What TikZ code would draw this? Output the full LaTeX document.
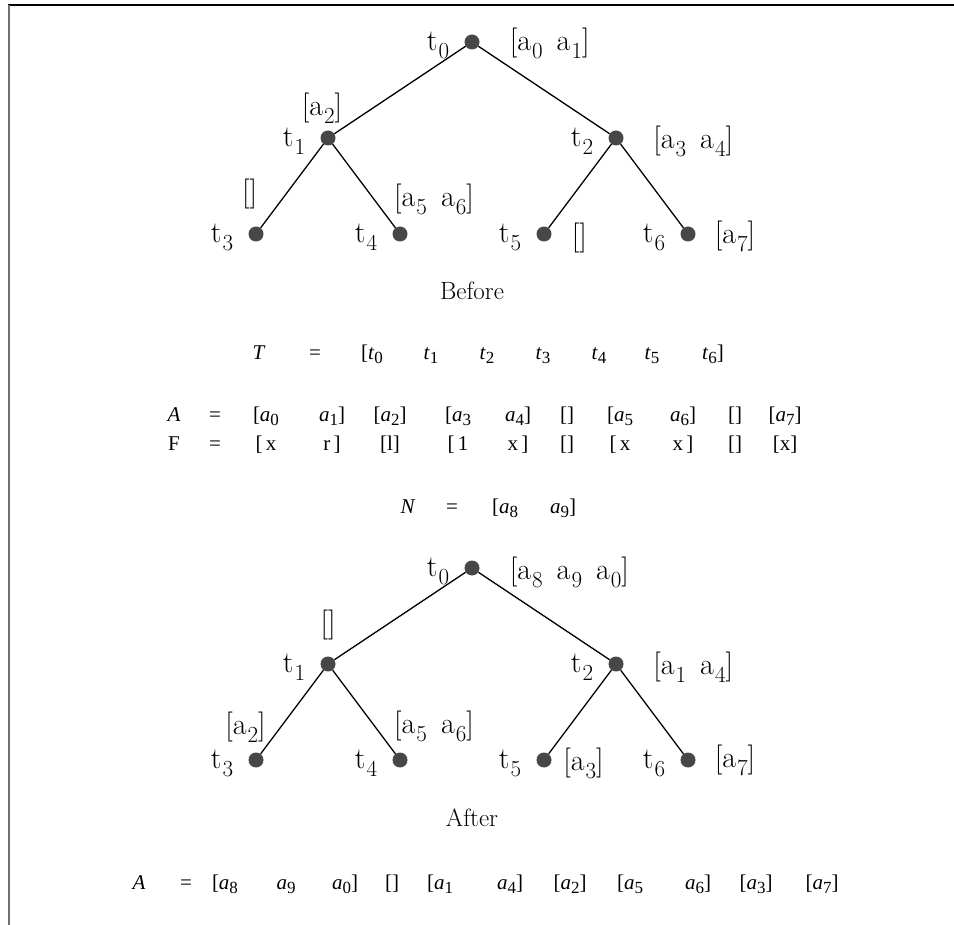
\documentclass[tikz,border=0pt]{standalone}
\usepackage{fontspec}
\newfontfamily\tmsfont{Liberation Serif}
\usetikzlibrary{positioning}

\definecolor{dotgray}{HTML}{474747}
\definecolor{framegray}{HTML}{707070}

% italic name with a lowered index (Times rows)
\newcommand{\vsub}[2]{\textit{#1}\raisebox{-4pt}{\fontsize{17}{17}\selectfont #2}}
% upright name with a lowered index (tree labels)
\newcommand{\ix}[2]{#1\kern1pt\raisebox{-8pt}{\fontsize{23}{23}\selectfont #2}}

\begin{document}
\begin{tikzpicture}[x=1pt, y=-1pt,
    vtx/.style={circle, fill=dotgray, inner sep=0pt, minimum size=15pt},
    tl/.style={font=\fontsize{30}{34}\selectfont, inner sep=0pt},
    row/.style={font=\tmsfont\fontsize{21}{25}\selectfont, anchor=base, inner sep=0pt},
    heading/.style={font=\fontsize{25}{30}\selectfont, anchor=base, inner sep=0pt}]
\useasboundingbox (0,0) rectangle (954,925);

% frame
\draw[line width=1.5pt] (8,5) -- (954,5);
\draw[framegray, line width=1.8pt] (8.8,5) -- (8.8,925);

% before
\node[vtx] (t0) at (472,42) {};
\node[vtx] (t1) [on grid, below left=96pt and 144pt of t0] {};
\node[vtx] (t2) [on grid, below right=96pt and 144pt of t0] {};
\node[vtx] (t3) [on grid, below left=96pt and 72pt of t1] {};
\node[vtx] (t4) [on grid, below right=96pt and 72pt of t1] {};
\node[vtx] (t5) [on grid, below left=96pt and 72pt of t2] {};
\node[vtx] (t6) [on grid, below right=96pt and 72pt of t2] {};

\draw[line width=1.3pt] (t0) -- (t1) (t0) -- (t2)
    (t1) -- (t3) (t1) -- (t4) (t2) -- (t5) (t2) -- (t6);

\foreach \i in {0,...,6}
    \node[tl] (t\i n) [on grid, left=34pt of t\i, yshift=-3pt] {\ix{t}{\i}};

\node[tl, right=30pt of t0, yshift=-1.5pt] (l0) {[\ix{a}{0}\hspace{14pt}\ix{a}{1}]};
\node[tl, above=6.5pt of t1, xshift=-6pt] (l1) {[\ix{a}{2}]};
\node[tl, right=29.5pt of t2, yshift=-3pt] (l2) {[\ix{a}{3}\hspace{14pt}\ix{a}{4}]};
\node[tl, above=17.5pt of t3, xshift=-6.5pt] (l3) {[]};
\node[tl, above=11.5pt of t4, xshift=34pt] (l4) {[\ix{a}{5}\hspace{14pt}\ix{a}{6}]};
\node[tl, right=20pt of t5, yshift=-4pt] (l5) {[]};
\node[tl, right=19pt of t6, yshift=-2pt] (l6) {[\ix{a}{7}]};

\node[heading] (before) at (472,300) {Before};

% arrays
\foreach \x/\s in {259/\textit{T}, 315/=, 372/{[\vsub{t}{0}}, 431/\vsub{t}{1},
    487/\vsub{t}{2}, 543/\vsub{t}{3}, 599/\vsub{t}{4}, 652/\vsub{t}{5},
    713/{\vsub{t}{6}]}}
    \node[row] (T\x) at (\x,360) {\s};

\foreach \x/\a/\f in {174/\textit{A}/F, 215/=/=, 266/{[\vsub{a}{0}}/{[\,x},
    332/{\vsub{a}{1}]}/{r\,]}, 390/{[\vsub{a}{2}]}/{[l]}, 458/{[\vsub{a}{3}}/{[\,1},
    518/{\vsub{a}{4}]}/{x\,]}, 567/{[]}/{[]}, 620/{[\vsub{a}{5}}/{[\,x},
    683/{\vsub{a}{6}]}/{x\,]}, 735/{[]}/{[]}, 785/{[\vsub{a}{7}]}/{[x]}}
{
    \node[row] (A\x) at (\x,422) {\a};
    \node[row] (F\x) at (\x,450) {\f};
}

\foreach \x/\s in {408/\textit{N}, 452/=, 505/{[\vsub{a}{8}}, 563/{\vsub{a}{9}]}}
    \node[row] (N\x) at (\x,513) {\s};

% after
\node[vtx] (u0) at (472,568) {};
\node[vtx] (u1) [on grid, below left=96pt and 144pt of u0] {};
\node[vtx] (u2) [on grid, below right=96pt and 144pt of u0] {};
\node[vtx] (u3) [on grid, below left=96pt and 72pt of u1] {};
\node[vtx] (u4) [on grid, below right=96pt and 72pt of u1] {};
\node[vtx] (u5) [on grid, below left=96pt and 72pt of u2] {};
\node[vtx] (u6) [on grid, below right=96pt and 72pt of u2] {};

\draw[line width=1.3pt] (u0) -- (u1) (u0) -- (u2)
    (u1) -- (u3) (u1) -- (u4) (u2) -- (u5) (u2) -- (u6);

\foreach \i in {0,...,6}
    \node[tl] (u\i n) [on grid, left=34pt of u\i, yshift=-3pt] {\ix{t}{\i}};

\node[tl, right=30pt of u0, yshift=-4pt] (m0) {[\ix{a}{8}\hspace{14pt}\ix{a}{9}\hspace{14pt}\ix{a}{0}]};
\node[tl, above=16.5pt of u1] (m1) {[]};
\node[tl, right=29.5pt of u2, yshift=-3pt] (m2) {[\ix{a}{1}\hspace{14pt}\ix{a}{4}]};
\node[tl, above=9.5pt of u3, xshift=-10.5pt] (m3) {[\ix{a}{2}]};
\node[tl, above=10.5pt of u4, xshift=34pt] (m4) {[\ix{a}{5}\hspace{14pt}\ix{a}{6}]};
\node[tl, right=11.5pt of u5, yshift=-3pt] (m5) {[\ix{a}{3}]};
\node[tl, right=19pt of u6] (m6) {[\ix{a}{7}]};

\node[heading] (after) at (472,826) {After};

\foreach \x/\s in {139/\textit{A}, 186/=, 225/{[\vsub{a}{8}}, 286/\vsub{a}{9},
    345/{\vsub{a}{0}]}, 392/{[]}, 440/{[\vsub{a}{1}}, 510/{\vsub{a}{4}]},
    570/{[\vsub{a}{2}]}, 630/{[\vsub{a}{5}}, 698/{\vsub{a}{6}]},
    756/{[\vsub{a}{3}]}, 822/{[\vsub{a}{7}]}}
    \node[row] (B\x) at (\x,889) {\s};
\end{tikzpicture}
\end{document}
